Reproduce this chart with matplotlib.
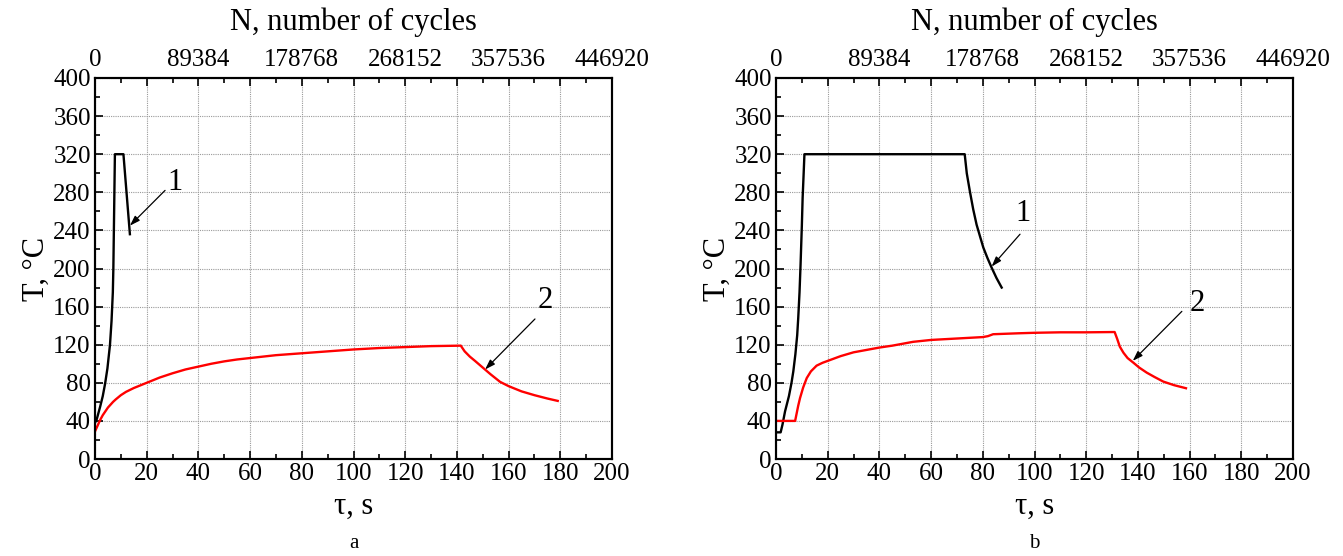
import matplotlib
matplotlib.use("Agg")
import matplotlib.pyplot as plt
from matplotlib.ticker import MultipleLocator

plt.rcParams['font.family'] = ['Liberation Serif', 'DejaVu Serif']

# ---- data ----
# panel a
a_black_tau = [0, 0.7, 2, 3, 3.9, 4.8, 5.8, 6.4, 6.9, 7.1, 7.3, 7.5, 7.7, 11.0, 13.5]
a_black_T = [38, 42, 55, 66, 79, 95, 120, 145, 175, 200, 240, 280, 320, 320, 236]
a_red_tau = [0, 1, 2, 3, 4, 5, 6, 7, 8, 10, 12, 15, 20, 25, 30, 35, 40, 45, 50, 55, 60,
             70, 80, 90, 100, 110, 120, 130, 141.5, 143, 145, 147, 150, 153, 156.7, 160,
             165, 170, 175, 179]
a_red_T = [29, 35, 41, 46, 50, 54, 57, 60, 62.5, 67, 70.5, 74.5, 80, 85.5, 90, 94, 97, 100,
           102.5, 104.5, 106, 109, 111, 113, 115, 116.5, 117.5, 118.5, 119, 113, 107.5, 103,
           96, 89, 81, 76.5, 71, 67, 63.5, 61]
# panel b
b_black_tau = [0, 1.8, 2.5, 3.5, 5, 6, 6.7, 7.5, 8.2, 8.6, 9.1, 9.5, 10, 10.3, 10.7, 11,
               73, 73.8, 75, 76.3, 77.6, 79, 80.2, 81.8, 83.4, 85.3, 87.3]
b_black_T = [28, 28, 36, 50, 66, 80, 92, 110, 130, 148, 175, 204, 245, 274, 300, 320,
             320, 300, 281, 262, 246, 233, 222, 211, 201, 190, 180]
b_red_tau = [0, 7.4, 8, 8.6, 9.3, 10.5, 11.9, 13.5, 15.7, 18, 20, 25, 30, 35, 40, 45, 50,
             53, 60, 70, 80, 82, 84, 94, 100, 110, 120, 131, 132, 133, 134.4, 136, 138.3,
             140.5, 143.4, 146.5, 149.8, 154, 158.6]
b_red_T = [40, 40, 48, 56, 64, 75, 85, 92, 98, 101, 103, 108, 112, 114.5, 117, 119, 121.5,
           123, 125, 126.5, 128, 129, 131, 132, 132.5, 133, 133, 133.3, 126, 118, 111.6, 106,
           101, 96, 90.7, 86, 81.3, 77.5, 74.3]

top_tick_tau = [0, 40, 80, 120, 160, 200]
top_tick_labels = ['0', '89384', '178768', '268152', '357536', '446920']

# annotations: (label, text pos, arrow tail, arrow tip)
a_notes = [('1', (31, 290), (27.1, 282), (13.5, 245)),
           ('2', (174, 166), (170.2, 147), (150.9, 94))]
b_notes = [('1', (95.5, 258), (94.4, 236), (83.4, 202)),
           ('2', (163, 163), (157, 155), (138, 103))]

fig = plt.figure(figsize=(13.43, 5.56), dpi=100)
W, H = 1343, 556

def make_panel(left_px, series, notes, letter):
    ax = fig.add_axes([left_px / W, 1 - 459 / H, 517 / W, 381 / H])
    for tau, T, c in series:
        ax.plot(tau, T, color=c, lw=1.7)
    ax.set_xlim(0, 200)
    ax.set_ylim(0, 400)
    ax.xaxis.set_major_locator(MultipleLocator(20))
    ax.xaxis.set_minor_locator(MultipleLocator(10))
    ax.yaxis.set_major_locator(MultipleLocator(40))
    ax.yaxis.set_minor_locator(MultipleLocator(20))
    ax.tick_params(which='both', direction='in', top=False, right=False, labelsize=18, pad=3)
    ax.tick_params(which='major', length=6, width=1.2)
    ax.tick_params(which='minor', length=3.5, width=1.2)
    ax.grid(True, which='major', color='#9a9a9a', ls=(0, (1, 1)), lw=0.8)
    for s in ax.spines.values():
        s.set_linewidth(1.5)
    ax.set_xlabel('τ, s', fontsize=22, labelpad=5)
    ax.set_ylabel('T, °C', fontsize=22, labelpad=2)

    ax2 = ax.twiny()
    ax2.set_xlim(0, 200)
    major_top = list(range(0, 201, 20))
    ax2.set_xticks(major_top)
    ax2.set_xticklabels([top_tick_labels[top_tick_tau.index(t)] if t in top_tick_tau else ''
                         for t in major_top])
    ax2.xaxis.set_minor_locator(MultipleLocator(10))
    ax2.tick_params(which='both', direction='in', labelsize=18, pad=5)
    ax2.tick_params(which='major', length=6, width=1.2)
    ax2.tick_params(which='minor', length=3.5, width=1.2)
    ax2.set_xlabel('N, number of cycles', fontsize=22, labelpad=14)
    for s in ax2.spines.values():
        s.set_linewidth(1.5)

    for lab, tpos, tail, tip in notes:
        ax.annotate('', xy=tip, xytext=tail,
                    arrowprops=dict(arrowstyle='-|>,head_length=0.6,head_width=0.2',
                                    color='black', lw=0.9, shrinkA=0, shrinkB=0))
        ax.text(tpos[0], tpos[1], lab, fontsize=22, ha='center', va='center')

    fig.text((left_px + 517 / 2) / W, 1 - 543 / H, letter, fontsize=15, ha='center', va='center')
    return ax

make_panel(95, [(a_black_tau, a_black_T, 'black'), (a_red_tau, a_red_T, '#ff0000')], a_notes, 'a')
make_panel(776, [(b_black_tau, b_black_T, 'black'), (b_red_tau, b_red_T, '#ff0000')], b_notes, 'b')

fig.savefig('out.png', dpi=100)
